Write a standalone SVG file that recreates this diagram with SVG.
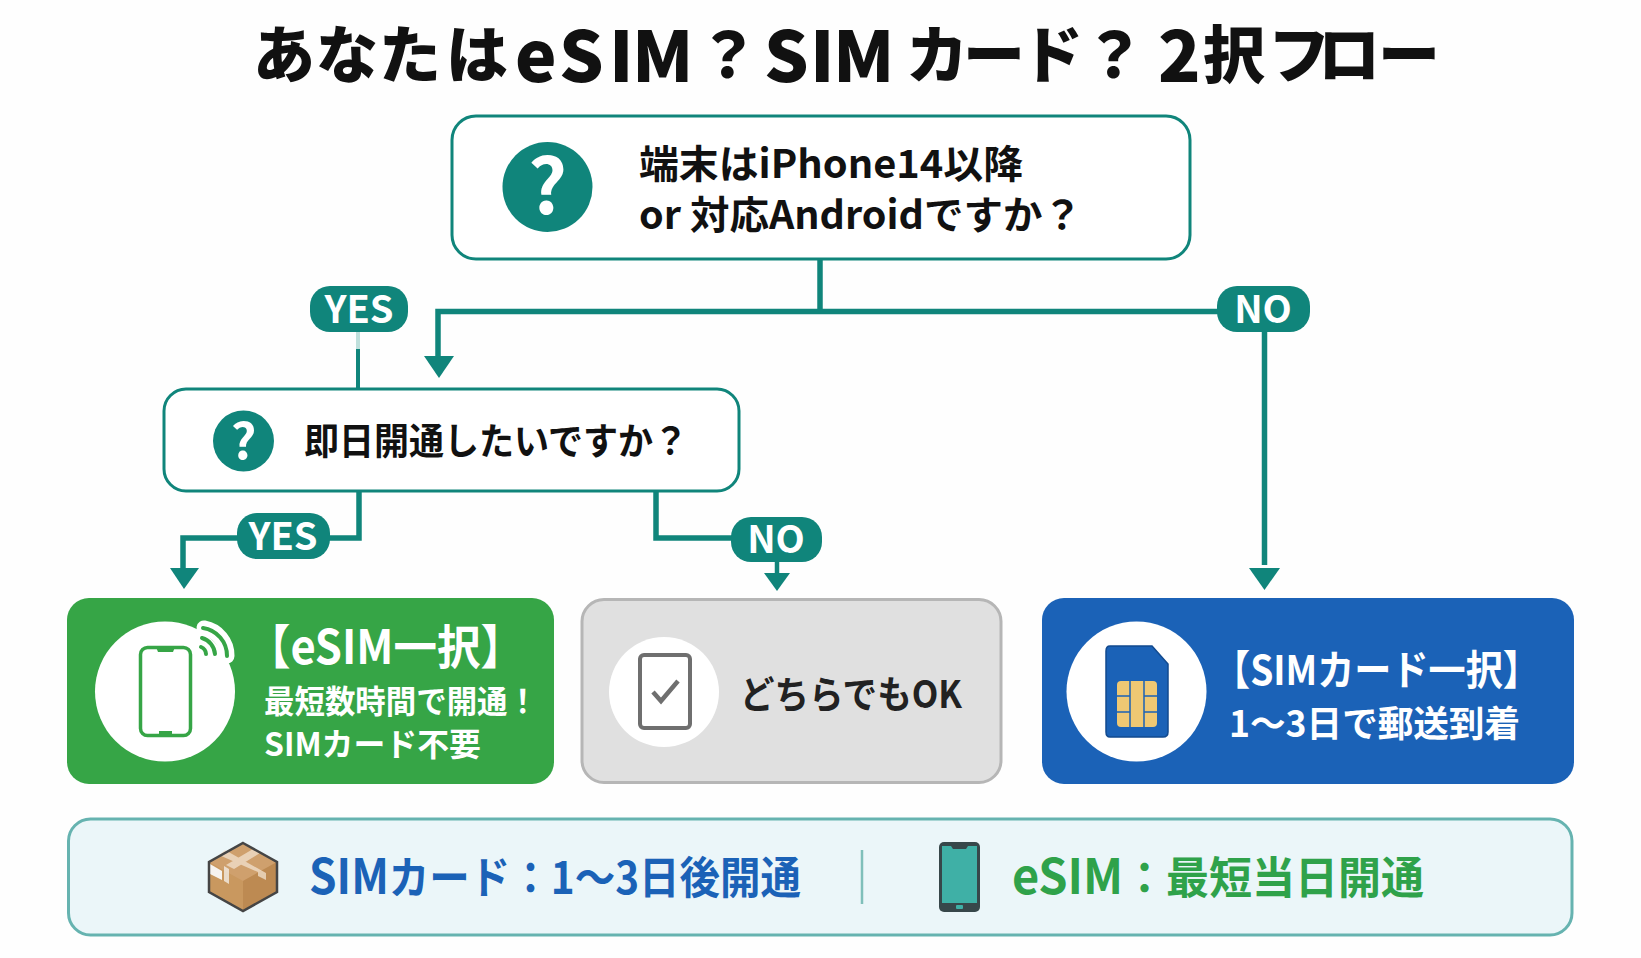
<svg xmlns="http://www.w3.org/2000/svg" width="1641" height="958" viewBox="0 0 1641 958">
<style>
text{font-family:"Noto Sans CJK JP","Noto Sans",sans-serif;font-weight:700}
.q{fill:#fff;stroke:#10857b;stroke-width:3}
.teal{fill:#10857b}
.w{fill:#fff}
.k{fill:#111}
.pill{fill:#fff;font-size:38px;text-anchor:middle}
.line{fill:none;stroke:#10857b;stroke-linejoin:miter}
</style>
<rect width="1641" height="958" fill="#fefefe"/>
<text id="title" class="k" font-size="62" style="font-weight:900"><tspan x="253 316 379 446" y="78">あなたは</tspan><tspan font-size="70" x="515 559 609 632" y="82">eSIM</tspan><tspan x="697" y="78">？</tspan><tspan font-size="70" x="764 810 833" y="82">SIM</tspan><tspan x="906 963 1021" y="78">カード</tspan><tspan x="1083" y="78">？</tspan><tspan font-size="70" x="1158" y="82">2</tspan><tspan x="1203 1268 1318 1378" y="78">択フロー</tspan></text>

<g id="connectors">
<path class="line" stroke-width="5.500" d="M820 259V311.500"/>
<path class="line" stroke-width="5.500" d="M1220 311.500H438V356"/>
<path d="M424 356H454L439 378z" class="teal"/>
<path class="line" stroke-width="5.500" d="M1264.500 332V565"/>
<path d="M1249 568H1280L1264.500 590z" class="teal"/>
<path stroke="#bfe0dc" stroke-width="4" d="M358 332V349"/>
<path class="line" stroke-width="4" d="M358 349V389"/>
<path class="line" stroke-width="5.500" d="M359 491V538H183V568"/>
<path d="M170 568H199L184 589z" class="teal"/>
<path class="line" stroke-width="5.500" d="M656 491V538H740"/>
<path class="line" stroke-width="4.500" d="M777 560V574"/>
<path d="M764 573H790L777 591z" class="teal"/>
</g>

<g id="q1">
<rect class="q" x="452" y="116" width="738" height="143" rx="24"/>
<circle class="teal" cx="547.500" cy="187" r="45"/>
<text x="547.500" y="214" class="w" font-size="76" text-anchor="middle">?</text>
<text x="639" y="178" class="k" font-size="39" textLength="384" lengthAdjust="spacingAndGlyphs">端末はiPhone14以降</text>
<text x="639" y="229" class="k" font-size="39" textLength="443" lengthAdjust="spacingAndGlyphs">or 対応Androidですか？</text>
</g>

<g id="yes1">
<rect class="teal" x="310" y="286" width="98" height="46" rx="20"/>
<text x="359" y="323" class="pill">YES</text>
</g>
<g id="no1">
<rect class="teal" x="1217" y="286" width="93" height="46" rx="20"/>
<text x="1263" y="323" class="pill">NO</text>
</g>

<g id="q2">
<rect class="q" x="164" y="389" width="575" height="102" rx="22"/>
<circle class="teal" cx="243.500" cy="441" r="30.500"/>
<text x="243.500" y="459" class="w" font-size="50" text-anchor="middle">?</text>
<text x="304" y="455" class="k" font-size="37" textLength="384" lengthAdjust="spacingAndGlyphs">即日開通したいですか？</text>
</g>

<g id="yes2">
<rect class="teal" x="237" y="513" width="93" height="46" rx="20"/>
<text x="283" y="550" class="pill">YES</text>
</g>
<g id="no2">
<rect class="teal" x="731" y="517" width="91" height="45" rx="20"/>
<text x="776" y="553" class="pill">NO</text>
</g>

<g id="esim">
<rect x="67" y="598" width="487" height="186" rx="22" fill="#36a546"/>
<circle class="w" cx="165" cy="691.500" r="70"/>
<path d="M204 628A28 28 0 0 1 227 656" fill="none" stroke="#fff" stroke-width="15" stroke-linecap="round"/>
<rect x="140.500" y="647.500" width="50" height="88" rx="7" fill="#fff" stroke="#36a546" stroke-width="3.500"/>
<path d="M156 647H175L173 652H158zM159 736V731H172V736z" fill="#36a546"/>
<g fill="none" stroke="#36a546" stroke-width="4" stroke-linecap="round">
<path d="M203 628A28 28 0 0 1 227 656"/>
<path d="M202 638A18 18 0 0 1 215 654"/>
<path d="M201 647A8 8 0 0 1 206 654"/>
</g>
<text x="247" y="664" class="w" font-size="47" textLength="277" lengthAdjust="spacingAndGlyphs">【eSIM一択】</text>
<text x="264" y="713" class="w" font-size="32" textLength="274" lengthAdjust="spacingAndGlyphs">最短数時間で開通！</text>
<text x="264" y="756" class="w" font-size="32" textLength="217" lengthAdjust="spacingAndGlyphs">SIMカード不要</text>
</g>

<g id="either">
<rect x="582" y="599.500" width="419" height="183" rx="22" fill="#e0e0e0" stroke="#b6b6b6" stroke-width="3"/>
<circle class="w" cx="664" cy="692" r="55"/>
<rect x="640" y="655" width="50" height="73" rx="4" fill="#fff" stroke="#6f6f6f" stroke-width="4"/>
<path d="M653 692L661 701L678 681" fill="none" stroke="#6f6f6f" stroke-width="4.500"/>
<text x="740" y="708" font-size="38" fill="#222" textLength="222" lengthAdjust="spacingAndGlyphs">どちらでもOK</text>
</g>

<g id="simcard">
<rect x="1042" y="598" width="532" height="186" rx="22" fill="#1b62b7"/>
<circle class="w" cx="1136.500" cy="691.500" r="70"/>
<path d="M1110 646H1152L1168 664V732Q1168 737 1163 737H1110Q1106 737 1106 732V651Q1106 646 1110 646z" fill="#1b62b7" stroke="#124a8f" stroke-width="1.500"/>
<rect x="1117" y="681" width="40" height="46" rx="4" fill="#efc873"/>
<path d="M1130 681V727M1144 681V727M1117 696H1130M1144 696H1157M1117 712H1130M1144 712H1157" stroke="#1b62b7" stroke-width="1.500" fill="none"/>
<text x="1213" y="685" class="w" font-size="41" textLength="327" lengthAdjust="spacingAndGlyphs">【SIMカード一択】</text>
<text x="1229" y="737" class="w" font-size="36" textLength="291" lengthAdjust="spacingAndGlyphs">1〜3日で郵送到着</text>
</g>

<g id="summary">
<rect x="68.500" y="819" width="1503.500" height="116" rx="22" fill="#ebf6f9" stroke="#66b3b0" stroke-width="3"/>
<g id="box">
<path d="M243 843L277 862V892L243 911L209 892V862z" fill="#c9985f"/>
<path d="M243 843L277 862L243 881L209 862z" fill="#cfa06d"/>
<path d="M243 881L277 862V892L243 911z" fill="#bd8a52"/>
<path d="M225 850L266 873V880L258 876V872L219 855zM253 849L260 853L234 869L226 865z" fill="#f2e2cf" opacity=".75"/>
<path d="M210 864L224 872V881L229 884V869L224 866V872L210 864z" fill="#f3ece4" opacity=".8"/>
<path d="M210 864L222 871V880L210 874z" fill="#f6f3ef"/>
<path d="M243 843L277 862V892L243 911L209 892V862z" fill="none" stroke="#454545" stroke-width="2.500"/>
</g>
<text x="309" y="894" font-size="44" fill="#1b62b7" textLength="492" lengthAdjust="spacingAndGlyphs"><tspan font-size="48">SIM</tspan>カード：1〜3日後開通</text>
<path d="M862 850V904" stroke="#7fbfba" stroke-width="2.500"/>
<g id="phone">
<rect x="939" y="842" width="41" height="70" rx="5" fill="#37474a"/>
<rect x="942" y="846" width="35" height="57" fill="#3fb0a6"/>
<path d="M951 846H968L966 849H953z" fill="#37474a"/>
<rect x="956" y="905" width="7" height="4" rx="1" fill="#3fb0a6"/>
</g>
<text x="1012" y="894" font-size="44" fill="#2fa24a" textLength="412" lengthAdjust="spacingAndGlyphs"><tspan font-size="48">eSIM</tspan>：最短当日開通</text>
</g>
</svg>
